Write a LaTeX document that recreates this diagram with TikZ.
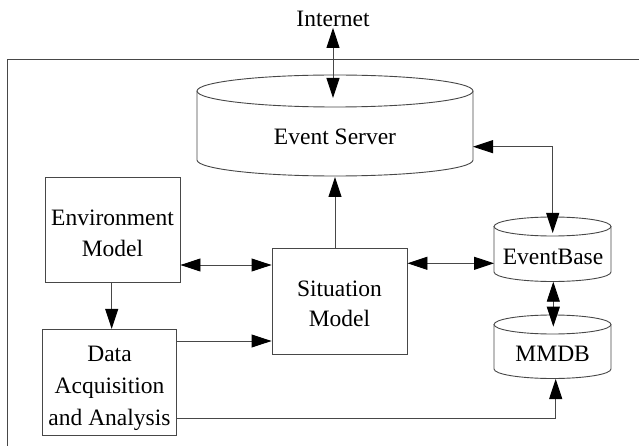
\documentclass[tikz,border=0pt]{standalone}
\usepackage{fontspec}
\setmainfont{Liberation Serif}
\usetikzlibrary{arrows.meta}
\begin{document}
\begin{tikzpicture}[x=1pt,y=-1pt,
  ln/.style={draw=black!72, line width=0.9pt},
  conn/.style={ln, -{Triangle[length=20pt,width=13pt,color=black]}},
  biconn/.style={ln, {Triangle[length=20pt,width=13pt,color=black]}-{Triangle[length=20pt,width=13pt,color=black]}},
  box/.style={ln, fill=white, align=center, inner sep=0pt, font=\fontsize{23.5pt}{31.6pt}\selectfont},
  lbl/.style={inner sep=0pt, anchor=base, font=\fontsize{23.5pt}{31.6pt}\selectfont}]
\useasboundingbox (0,0) rectangle (639,446);
% outer frame
\draw[ln] (7,446) -- (7,59) -- (639,59);
% Event Server cylinder
\draw[ln] (335,91) ellipse [x radius=138pt, y radius=16pt];
\draw[ln] (197,91) -- (197,160) arc[start angle=180, end angle=360, x radius=138pt, y radius=16pt] -- (473,91);
\node[lbl] (es) at (335,144.3) {Event Server};
% EventBase cylinder
\draw[ln] (552.5,226.5) ellipse [x radius=58.5pt, y radius=9.5pt];
\draw[ln] (494,226.5) -- (494,272) arc[start angle=180, end angle=360, x radius=58.5pt, y radius=9.5pt] -- (611,226.5);
\node[lbl] (eb) at (553,264.3) {EventBase};
% MMDB cylinder
\draw[ln] (552.5,324.5) ellipse [x radius=58.5pt, y radius=9.5pt];
\draw[ln] (494,324.5) -- (494,369) arc[start angle=180, end angle=360, x radius=58.5pt, y radius=9.5pt] -- (611,324.5);
\node[lbl] (mm) at (552.7,361.7) {MMDB};
% boxes
\node[box, minimum width=135pt, minimum height=105.4pt, text height=58.4pt, text depth=5pt] (env) at (112.5,230) {Environment\\Model};
\node[box, minimum width=134.4pt, minimum height=105.7pt, text height=90.6pt, text depth=5pt] (data) at (109.5,382.2) {Data\\Acquisition\\and Analysis};
\node[box, minimum width=135pt, minimum height=105.7pt, text height=56pt, text depth=5pt, font=\fontsize{23.5pt}{30pt}\selectfont] (sit) at (339.5,301.2) {Situation\\Model};
% Internet
\node[lbl, inner sep=0.5pt] (inet) at (333,27) {Internet};
% anchor coordinates
\coordinate (esIn) at (333,98);
\coordinate (esR) at (473,146.7);
\coordinate (esB) at (335,177);
\coordinate (ebTop) at (552.7,233);
\coordinate (ebL) at (494,263.3);
\coordinate (ebBot) at (553.3,281.7);
\coordinate (mmTop) at (553.3,326.7);
\coordinate (mmB) at (555.7,379);
\coordinate (h1) at (0,265);
\coordinate (h2) at (0,341);
\coordinate (h3) at (0,263.3);
\coordinate (h4) at (0,418.3);
\coordinate (v1) at (111.7,0);
% connectors
\draw[biconn] (inet.south) -- (esIn);
\draw[biconn] (esR) -| (ebTop);
\draw[conn] (sit.north -| esB) -- (esB);
\draw[biconn] (env.east |- h1) -- (sit.west |- h1);
\draw[conn] (data.east |- h2) -- (sit.west |- h2);
\draw[conn] (env.south -| v1) -- (data.north -| v1);
\draw[biconn] (sit.east |- h3) -- (ebL);
\draw[biconn] (ebBot) -- (mmTop);
\draw[conn] (data.east |- h4) -| (mmB);
\end{tikzpicture}
\end{document}
